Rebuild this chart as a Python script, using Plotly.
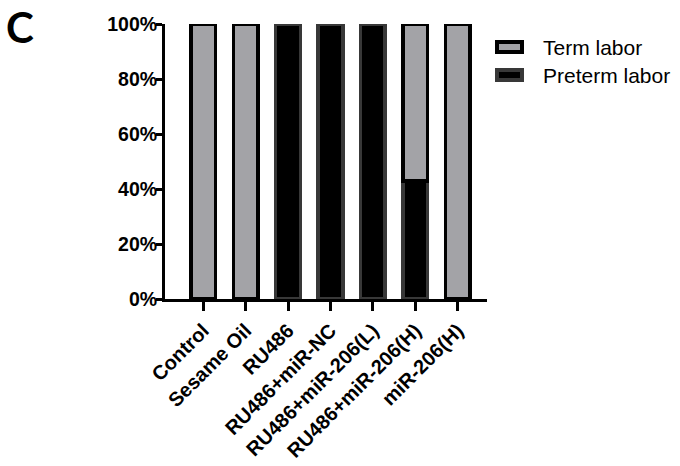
import plotly.graph_objects as go

categories = ["Control", "Sesame Oil", "RU486", "RU486+miR-NC",
              "RU486+miR-206(L)", "RU486+miR-206(H)", "miR-206(H)"]
preterm_pct = [0, 0, 100, 100, 100, 42.86, 0]
term_pct = [100, 100, 0, 0, 0, 57.14, 100]
y_tick_vals = [0, 20, 40, 60, 80, 100]
y_tick_text = ["0%", "20%", "40%", "60%", "80%", "100%"]
series_names = ["Term labor", "Preterm labor"]

TERM_FILL, TERM_LINE = "#a3a3a7", "#000000"
PRE_FILL, PRE_LINE = "#000000", "#383838"

FONT = "Liberation Sans"
W, H = 680, 466
ML, MR, MT, MB = 165, 193, 24, 167
PW, PH = W - ML - MR, H - MT - MB


def px_x(x):
    return (x - ML) / PW


def px_y(y):
    return (H - MB - y) / PH


def nz(vals):
    return [v if v else None for v in vals]


fig = go.Figure()
fig.add_trace(go.Bar(
    x=categories, y=nz(preterm_pct), name=series_names[1], width=0.58,
    marker=dict(color=PRE_FILL, line=dict(color=PRE_LINE, width=3.5)),
))
fig.add_trace(go.Bar(
    x=categories, y=nz(term_pct), name=series_names[0], width=0.58,
    marker=dict(color=TERM_FILL, line=dict(color=TERM_LINE, width=3.5)),
))

fig.update_layout(
    width=W, height=H,
    barmode="stack",
    plot_bgcolor="white", paper_bgcolor="white",
    margin=dict(l=ML, r=MR, t=MT, b=MB),
    font=dict(family=FONT, color="black"),
    showlegend=False,
    xaxis=dict(range=[-0.9, 6.69], showline=True, linecolor="black", linewidth=3,
               ticks="outside", ticklen=9, tickwidth=3, tickcolor="black",
               tickangle=-45, tickfont=dict(size=20, family=FONT, weight="bold"),
               showgrid=False, zeroline=False, automargin=False),
    yaxis=dict(range=[0, 100], tickmode="array", tickvals=y_tick_vals,
               ticktext=y_tick_text,
               showline=True, linecolor="black", linewidth=3,
               ticks="outside", ticklen=6, tickwidth=3, tickcolor="black",
               ticklabelstandoff=-5,
               tickfont=dict(size=19.5, family=FONT, weight="bold"),
               showgrid=False, zeroline=False, automargin=False),
)

# panel letter
fig.add_annotation(text="<b>C</b>", xref="paper", yref="paper",
                   x=px_x(4), y=px_y(0), xanchor="left", yanchor="top",
                   showarrow=False, font=dict(size=42, family="Lato", color="black"))

# legend (swatches + labels)
legend_items = [(series_names[0], TERM_FILL, TERM_LINE, 47),
                (series_names[1], PRE_FILL, PRE_LINE, 75)]
for name, fill, line, cy in legend_items:
    fig.add_shape(type="rect", xref="paper", yref="paper",
                  x0=px_x(497), x1=px_x(522), y0=px_y(cy - 5), y1=px_y(cy + 5),
                  fillcolor=fill, line=dict(color=line, width=4))
    fig.add_annotation(text=name, xref="paper", yref="paper",
                       x=px_x(541), y=px_y(cy + 0.5), xanchor="left", yanchor="middle",
                       showarrow=False, font=dict(size=21, family=FONT, color="black"))

fig.write_html("out.html", config={"displayModeBar": False},
               post_script="document.body.style.margin='0';")
